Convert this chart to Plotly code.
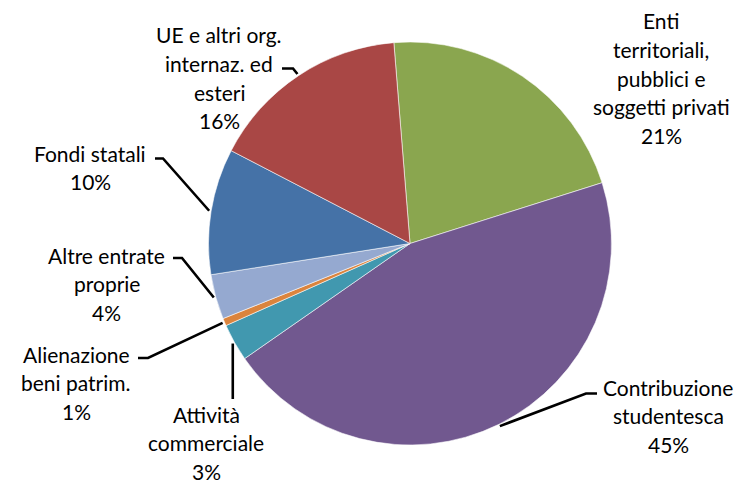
import math
import plotly.graph_objects as go

# voci delle entrate (ordine orario a partire da ore 12)
voci = ["Enti<br>territoriali,<br>pubblici e<br>soggetti privati",
        "Contribuzione<br>studentesca",
        "Attività<br>commerciale",
        "Alienazione<br>beni patrim.",
        "Altre entrate<br>proprie",
        "Fondi statali",
        "UE e altri org.<br>internaz. ed<br>esteri"]
quote = [21.4, 45.2, 3.0, 0.6, 3.6, 10.1, 16.1]
colori = ["#8AA64F", "#71588F", "#4198AF", "#DB843D", "#95A9D0", "#4572A7", "#A94745"]

W, H = 742, 483
CX, CY, R = 410, 243.5, 201.5
ROT = -4.6
FONT = dict(family="Lato, Carlito, sans-serif", size=21, color="black")
PASSO = 28.6

# posizione etichette (centro x, y prima riga) e linee guida
pos_etichette = [(661, 21), (668, 387), (206, 414), (76, 354),
                 (107, 255), (90, 153), (219, 35)]
guide = [None,
         [(597, 393.5), (586, 393.5)],
         [(236, 399)],
         [(138, 358), (148, 358)],
         [(173, 258), (182, 258)],
         [(155, 158.5), (163, 158.5)],
         [(282, 68.5), (293, 68.5)]]


def px(x):
    return x / W


def py(y):
    return 1 - y / H


fig = go.Figure(go.Pie(
    labels=[v.replace("<br>", " ") for v in voci],
    values=quote,
    sort=False,
    direction="clockwise",
    rotation=ROT,
    marker=dict(colors=colori, line=dict(color="rgba(255,255,255,0.7)", width=0.8)),
    textinfo="none",
    hoverinfo="label+percent",
    showlegend=False,
    domain=dict(x=[px(CX - R), px(CX + R)], y=[py(CY + R), py(CY - R)]),
))

tot = sum(quote)
cum = 0
annotations = []
shapes = []
for voce, q, (lx, ly), g in zip(voci, quote, pos_etichette, guide):
    mid = ROT + (cum + q / 2) / tot * 360
    cum += q
    righe = voce.split("<br>") + ["%d%%" % round(q / tot * 100)]
    for i, riga in enumerate(righe):
        annotations.append(dict(x=px(lx), y=py(ly + i * PASSO), xref="paper", yref="paper",
                                text=riga, showarrow=False, font=FONT,
                                xanchor="center", yanchor="middle"))
    if g:
        a = math.radians(mid)
        ex = CX + (R + 2) * math.sin(a)
        ey = CY - (R + 2) * math.cos(a)
        punti = g + [(ex, ey)]
        if len(g) == 1:
            punti = [(ex, g[0][1]), (ex, ey)]
        path = "M " + " L ".join("%f,%f" % (px(x), py(y)) for x, y in punti)
        shapes.append(dict(type="path", path=path, xref="paper", yref="paper",
                           line=dict(color="black", width=2.6)))

fig.update_layout(
    width=W, height=H,
    margin=dict(l=0, r=0, t=0, b=0),
    paper_bgcolor="white",
    plot_bgcolor="white",
    annotations=annotations,
    shapes=shapes,
)

# niente margine della pagina, così la figura parte da (0, 0)
fig.write_html("out.html", config={"displayModeBar": False},
               post_script="document.body.style.margin='0';")
